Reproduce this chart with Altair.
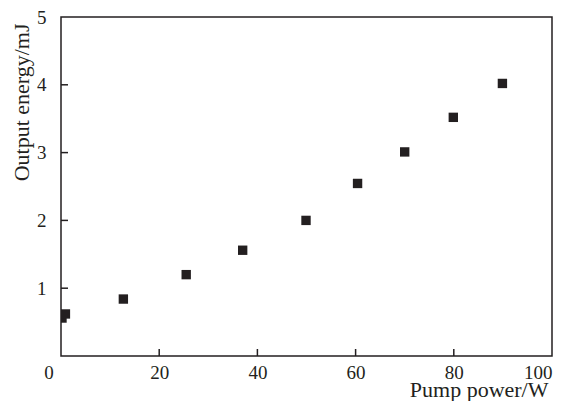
import altair as alt
import pandas as pd

pump_power = [0.2, 0.9, 12.7, 25.5, 37.0, 49.9, 60.4, 70.0, 79.9, 89.9]
output_energy = [0.56, 0.62, 0.84, 1.20, 1.56, 2.00, 2.545, 3.01, 3.52, 4.02]
x_ticks = [0, 20, 40, 60, 80, 100]
y_ticks = [0, 1, 2, 3, 4, 5]
x_inner_ticks = [20, 40, 60, 80]
y_inner_ticks = [1, 2, 3, 4]

FONT = "Liberation Serif"
INK = "#231f20"
W, H = 491, 339

df = pd.DataFrame({"p": pump_power, "e": output_energy})

xs = alt.Scale(domain=[0, 100], nice=False, zero=False)
ys = alt.Scale(domain=[0, 5], nice=False, zero=False)

xaxis = alt.Axis(values=x_ticks, format="d", labelExpr="datum.value == 0 ? '' : datum.label",
                 ticks=False, tickSize=0, domain=False, grid=False,
                 labelFont=FONT, labelFontSize=19, labelColor=INK, labelPadding=7,
                 title="Pump power/W", titleFont=FONT, titleFontSize=22,
                 titleFontWeight="normal", titleColor=INK,
                 titleX=487, titleY=40, titleAlign="right", titleBaseline="alphabetic")
yaxis = alt.Axis(values=y_ticks, format="d", labelExpr="datum.value == 0 ? '' : datum.label",
                 ticks=False, tickSize=0, domain=False, grid=False,
                 labelFont=FONT, labelFontSize=19, labelColor=INK, labelPadding=15,
                 title="Output energy/mJ", titleFont=FONT, titleFontSize=22,
                 titleFontWeight="normal", titleColor=INK,
                 titleX=-33, titleY=6, titleAlign="right", titleBaseline="alphabetic",
                 titleAngle=270)

points = alt.Chart(df).mark_square(size=88, color=INK, opacity=1, clip=True).encode(
    x=alt.X("p:Q", scale=xs, axis=xaxis),
    y=alt.Y("e:Q", scale=ys, axis=yaxis),
)

yt = alt.Chart(pd.DataFrame({"p": y_inner_ticks})).mark_rule(color=INK, strokeWidth=1.5).encode(
    y=alt.Y("p:Q", scale=ys), x=alt.value(0), x2=alt.value(7))
xt = alt.Chart(pd.DataFrame({"p": x_inner_ticks})).mark_rule(color=INK, strokeWidth=1.5).encode(
    x=alt.X("p:Q", scale=xs), y=alt.value(H), y2=alt.value(H - 7))

zero = alt.Chart(pd.DataFrame({"p": [0], "t": ["0"]})).mark_text(
    font=FONT, fontSize=19, color=INK, dx=-12, dy=17, align="center", baseline="middle"
).encode(x=alt.X("p:Q", scale=xs), y=alt.Y("p:Q", scale=ys), text="t:N")

chart = alt.layer(points, yt, xt, zero).properties(
    width=W, height=H,
    background="white",
    autosize=alt.AutoSizeParams(type="none"),
    padding={"left": 53, "top": 9, "right": 8, "bottom": 45},
).configure_view(stroke=INK, strokeWidth=1.5)

chart.save("out.html", embed_options={"renderer": "svg", "actions": False})
